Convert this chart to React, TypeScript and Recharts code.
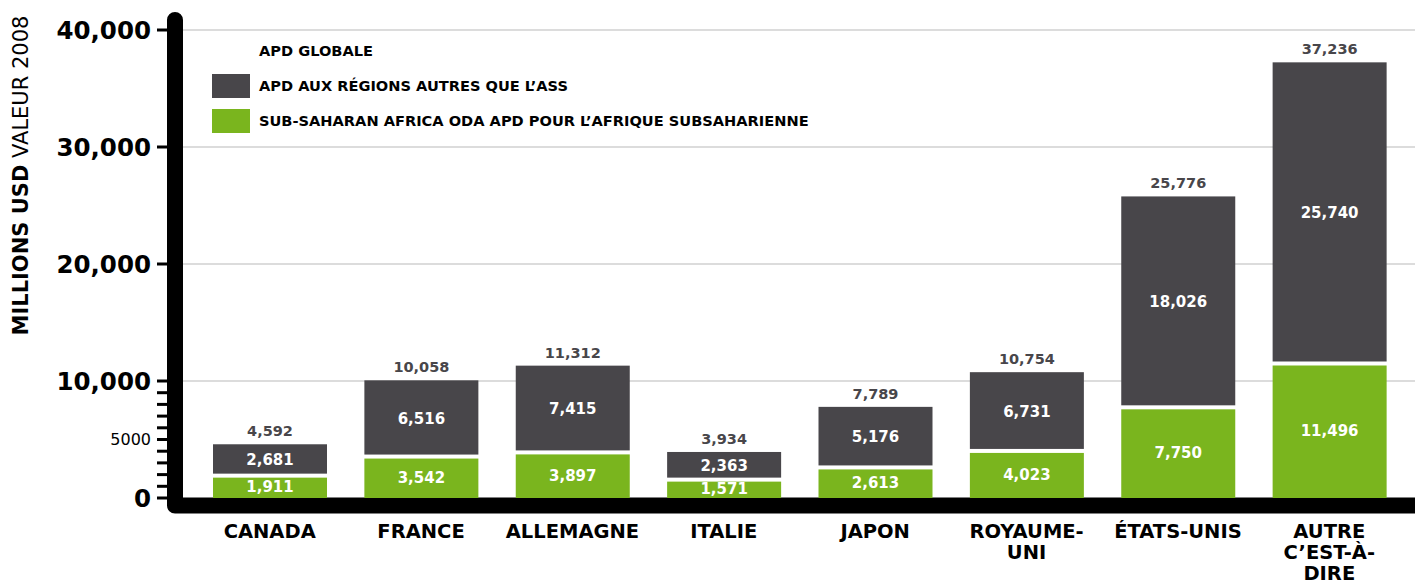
import React from "react";
import {
    BarChart,
    Bar,
    XAxis,
    YAxis,
    CartesianGrid,
    Legend,
    LabelList,
    usePlotArea,
} from "recharts";

const countries = [
    "CANADA",
    "FRANCE",
    "ALLEMAGNE",
    "ITALIE",
    "JAPON",
    "ROYAUME-\nUNI",
    "ÉTATS-UNIS",
    "AUTRE\nC’EST-À-\nDIRE",
];
const ssaOda = [1911, 3542, 3897, 1571, 2613, 4023, 7750, 11496];
const otherOda = [2681, 6516, 7415, 2363, 5176, 6731, 18026, 25740];
const totalOda = [4592, 10058, 11312, 3934, 7789, 10754, 25776, 37236];

const yTicks = [0, 1000, 2000, 3000, 4000, 5000, 6000, 7000, 8000, 9000, 10000, 20000, 30000, 40000];
const yTickLabels: Record<number, string> = {
    0: "0",
    5000: "5000",
    10000: "10,000",
    20000: "20,000",
    30000: "30,000",
    40000: "40,000",
};
const gridValues = [10000, 20000, 30000, 40000];

const legendLabels = [
    "APD GLOBALE",
    "APD AUX RÉGIONS AUTRES QUE L’ASS",
    "SUB-SAHARAN AFRICA ODA APD POUR L’AFRIQUE SUBSAHARIENNE",
];

const DARK = "#48464a";
const GREEN = "#7ab51e";
const FONT = "'DejaVu Sans', sans-serif";

const data = countries.map((name, i) => ({
    name,
    ssa: ssaOda[i],
    other: otherOda[i],
    total: totalOda[i],
}));

const fmt = (v: any) => Number(v).toLocaleString("en-US");

// bars leave a white gap between the two segments
const GreenShape = (props: any) => {
    const { x, y, width, height } = props;
    return <rect x={x} y={y + 2} width={width} height={Math.max(height - 2, 0)} fill={GREEN} />;
};
const DarkShape = (props: any) => {
    const { x, y, width, height } = props;
    return <rect x={x} y={y} width={width} height={Math.max(height - 2, 0)} fill={DARK} />;
};

const YTick = (props: any) => {
    const { x, y, payload } = props;
    const label = yTickLabels[payload.value];
    if (!label) return null;
    const small = payload.value === 5000;
    return (
        <text
            x={x}
            y={y}
            dy="0.36em"
            textAnchor="end"
            fill="#000"
            fontFamily={FONT}
            fontWeight={small ? 400 : 700}
            fontSize={small ? 16 : 24.5}
        >
            {label}
        </text>
    );
};

const XTick = (props: any) => {
    const { x, y, payload } = props;
    const lines = String(payload.value).split("\n");
    return (
        <text x={x} y={y} textAnchor="middle" fill="#000" fontFamily={FONT} fontWeight={700} fontSize={19.5}>
            {lines.map((l, i) => (
                <tspan key={i} x={x} dy={i === 0 ? 40 : 21}>
                    {l}
                </tspan>
            ))}
        </text>
    );
};

const ThickAxis = () => {
    const area = usePlotArea();
    if (!area) return null;
    const x = area.x - 8;
    const yb = area.y + area.height + 7.5;
    return (
        <path
            d={`M${x},${area.y - 10} L${x},${yb} L${area.x + area.width + 10},${yb}`}
            stroke="#000"
            strokeWidth={16}
            fill="none"
            strokeLinejoin="round"
            strokeLinecap="round"
        />
    );
};

const LegendBox = () => (
    <div style={{ fontFamily: FONT, fontWeight: 700, fontSize: 14.6, color: "#000" }}>
        {legendLabels.map((label, i) => (
            <div key={label} style={{ display: "flex", alignItems: "center", height: 35 }}>
                <span
                    style={{
                        display: "inline-block",
                        width: 38,
                        height: 24,
                        marginRight: 9,
                        background: i === 0 ? "transparent" : i === 1 ? DARK : GREEN,
                    }}
                />
                <span style={{ whiteSpace: "nowrap" }}>{label}</span>
            </div>
        ))}
    </div>
);

export default function App() {
    return (
        <div style={{ position: "absolute", left: 0, top: 0, background: "#fff" }}>
            <BarChart
                width={1415}
                height={586}
                data={data}
                margin={{ top: 30, right: 0, bottom: 28, left: 0 }}
            >
                <CartesianGrid
                    vertical={false}
                    horizontalValues={gridValues}
                    stroke="#dcdcdc"
                    strokeWidth={2}
                />
                <XAxis
                    dataKey="name"
                    interval={0}
                    height={60}
                    tickLine={false}
                    axisLine={false}
                    tickSize={0}
                    tickMargin={0}
                    padding={{ left: 11, right: 10 }}
                    tick={<XTick />}
                />
                <YAxis
                    type="number"
                    domain={[0, 40000]}
                    ticks={yTicks}
                    interval={0}
                    width={183}
                    axisLine={false}
                    tickSize={26}
                    tickMargin={6}
                    tickLine={{ stroke: "#000", strokeWidth: 3 }}
                    tick={<YTick />}
                />
                <Legend
                    layout="vertical"
                    align="center"
                    verticalAlign="middle"
                    content={<LegendBox />}
                    wrapperStyle={{ top: 33, left: 212, width: "auto", height: "auto" }}
                />
                <Bar dataKey="ssa" stackId="a" barSize={114} fill={GREEN} shape={<GreenShape />} isAnimationActive={false}>
                    <LabelList
                        dataKey="ssa"
                        position="center"
                        formatter={fmt}
                        fill="#fff"
                        fontFamily={FONT}
                        fontWeight={700}
                        fontSize={15}
                    />
                </Bar>
                <Bar dataKey="other" stackId="a" barSize={114} fill={DARK} shape={<DarkShape />} isAnimationActive={false}>
                    <LabelList
                        dataKey="other"
                        position="center"
                        formatter={fmt}
                        fill="#fff"
                        fontFamily={FONT}
                        fontWeight={700}
                        fontSize={15}
                    />
                    <LabelList
                        dataKey="total"
                        position="top"
                        offset={8}
                        formatter={fmt}
                        fill={DARK}
                        fontFamily={FONT}
                        fontWeight={700}
                        fontSize={14.5}
                    />
                </Bar>
                <ThickAxis />
                <text
                    transform="translate(27.5,175.5) rotate(-90)"
                    textAnchor="middle"
                    fontFamily={FONT}
                    fontSize={21}
                    fill="#000"
                >
                    <tspan fontWeight={700}>MILLIONS USD</tspan>
                    <tspan fontWeight={400}> VALEUR 2008</tspan>
                </text>
            </BarChart>
        </div>
    );
}
